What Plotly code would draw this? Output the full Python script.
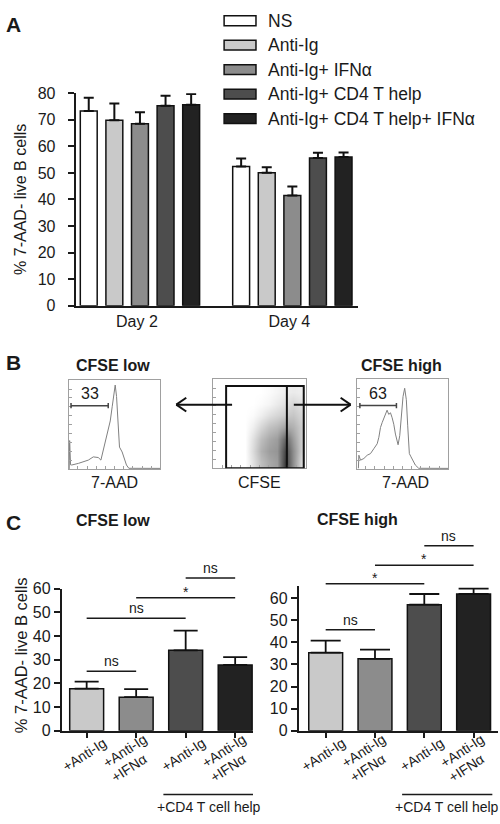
import plotly.graph_objects as go

W, H = 500, 824
FONT = "Liberation Sans, Arial, sans-serif"
INK = "#1a1a1a"

# ---------------- data ----------------
# Panel A
groups = ["NS", "Anti-Ig", "Anti-Ig+ IFNα", "Anti-Ig+ CD4 T help", "Anti-Ig+ CD4 T help+ IFNα"]
group_colors = ["#ffffff", "#c9c9c9", "#8c8c8c", "#4d4d4d", "#222222"]
days = ["Day 2", "Day 4"]
day2_mean = [73.3, 69.8, 68.5, 75.3, 75.7]
day2_err = [5.0, 6.3, 4.3, 3.7, 4.0]
day4_mean = [52.4, 50.1, 41.5, 55.6, 56.0]
day4_err = [3.0, 2.0, 3.4, 2.0, 1.7]

# Panel C
c_line1 = ["+Anti-Ig", "+Anti-Ig", "+Anti-Ig", "+Anti-Ig"]
c_line2 = ["", "+IFNα", "", "+IFNα"]
c_colors = ["#c9c9c9", "#8c8c8c", "#4d4d4d", "#222222"]
low_mean = [17.8, 14.2, 34.0, 27.8]
low_err = [3.0, 3.4, 8.3, 3.3]
high_mean = [35.3, 32.5, 57.0, 61.8]
high_err = [5.4, 4.2, 4.8, 2.4]
# comparisons: (bar i, bar j, bracket height, label)
low_sig = [(0, 1, 25.2, "ns"), (0, 2, 47.5, "ns"), (1, 3, 56.2, "*"), (2, 3, 64.5, "ns")]
high_sig = [(0, 1, 45.6, "ns"), (0, 2, 66.4, "*"), (1, 3, 74.8, "*"), (2, 3, 83.6, "ns")]

# Panel B histograms (7-AAD channel 0-100, % of max)
low_hist_x = [0.5, 1.0, 2.0, 3.3, 10.5, 21.4, 26.8, 32.2, 35.1, 37.7, 40.2, 43.1, 45.3, 47.5, 49.3,
              50.7, 52.2, 54.0, 55.4, 58.3, 60.5, 63.0, 65.6, 100]
low_hist_y = [0, 32.2, 5.0, 4.8, 6.6, 10.3, 13.9, 13.2, 10.3, 21.2, 34.1, 46.9, 54.2, 70.7, 87.2,
              94.5, 81.7, 48.7, 24.9, 19.4, 12.1, 4.8, 1.1, 1.0]
high_hist_x = [2.0, 2.5, 4.3, 8.0, 11.6, 15.2, 18.8, 22.5, 24.3, 26.1, 27.9, 29.7, 31.5, 33.3, 35.1,
               37.0, 38.8, 40.6, 42.4, 44.2, 45.3, 47.1, 48.9, 50.7, 52.5, 54.3, 55.8, 57.6, 59.4,
               61.6, 64.1, 67.8, 100]
high_hist_y = [1.1, 15.6, 10.1, 12.0, 15.6, 17.4, 22.8, 28.3, 35.5, 46.4, 51.8, 57.2, 62.7, 65.6, 60.9,
               62.7, 57.2, 50.0, 39.1, 30.1, 27.2, 37.3, 59.0, 80.8, 89.9, 77.2, 48.2, 17.4, 13.8,
               10.1, 4.7, 1.1, 1.0]
low_gate = [2.5, 43.1, 71.4]    # x0, x1, level
high_gate = [3.6, 43.5, 70.7]
low_pct, high_pct = "33", "63"

# Panel B dot plot density (CFSE vs 7-AAD), estimated on a coarse grid
dot_x = [34.4, 43.0, 51.6, 60.2, 68.8, 77.4, 86.0, 94.6]
dot_y = [85.7, 72.5, 59.3, 46.2, 33.0, 19.8, 6.6]
dot_z = [
    [0.00, 0.00, 0.00, 0.02, 0.05, 0.08, 0.10, 0.08],
    [0.00, 0.00, 0.02, 0.05, 0.10, 0.15, 0.20, 0.15],
    [0.00, 0.02, 0.08, 0.15, 0.20, 0.25, 0.28, 0.20],
    [0.00, 0.08, 0.20, 0.30, 0.35, 0.45, 0.38, 0.25],
    [0.00, 0.15, 0.32, 0.42, 0.48, 0.75, 0.48, 0.25],
    [0.00, 0.18, 0.38, 0.48, 0.52, 0.90, 0.55, 0.25],
    [0.00, 0.15, 0.32, 0.42, 0.48, 0.95, 0.55, 0.20],
]
dot_gate = [14.0, 97.8, 92.3]   # x0, x1, top
dot_split = 79.6


def px(x):
    return x / W


def py(y):
    return 1 - y / H


fig = go.Figure()

# ---------------- Panel A ----------------
for k, name in enumerate(groups):
    fig.add_trace(go.Bar(
        x=days, y=[day2_mean[k], day4_mean[k]], name=name, showlegend=False,
        marker=dict(color=group_colors[k], line=dict(color="#111", width=1.5)),
        error_y=dict(type="data", symmetric=False, array=[day2_err[k], day4_err[k]],
                     arrayminus=[0, 0], color="#111", thickness=2, width=5),
        xaxis="x", yaxis="y"))

# ---------------- Panel C ----------------
cx = list(range(len(c_line1)))
fig.add_trace(go.Bar(
    x=cx, y=low_mean, width=0.685, showlegend=False,
    marker=dict(color=c_colors, line=dict(color="#111", width=1.5)),
    error_y=dict(type="data", symmetric=False, array=low_err, arrayminus=[0] * 4,
                 color="#111", thickness=1.8, width=12),
    xaxis="x2", yaxis="y2"))
fig.add_trace(go.Bar(
    x=cx, y=high_mean, width=0.687, showlegend=False,
    marker=dict(color=c_colors, line=dict(color="#111", width=1.5)),
    error_y=dict(type="data", symmetric=False, array=high_err, arrayminus=[0] * 4,
                 color="#111", thickness=1.8, width=15),
    xaxis="x3", yaxis="y3"))
# invisible carriers for the extra tick-label axes
for xa, ya, vals in [("x7", "y2", low_mean), ("x8", "y2", low_mean),
                     ("x9", "y3", high_mean), ("x10", "y3", high_mean)]:
    fig.add_trace(go.Scatter(x=cx, y=vals, mode="markers", marker=dict(opacity=0),
                             showlegend=False, hoverinfo="skip", xaxis=xa, yaxis=ya))

# ---------------- Panel B ----------------
fig.add_trace(go.Scatter(x=low_hist_x, y=low_hist_y, mode="lines", showlegend=False,
                         line=dict(color="#808080", width=1), xaxis="x4", yaxis="y4"))
fig.add_trace(go.Heatmap(x=dot_x, y=dot_y, z=dot_z, zmin=0, zmax=1.25, showscale=False,
                         zsmooth="best", colorscale=[[0, "#ffffff"], [1, "#000000"]],
                         xaxis="x5", yaxis="y5", hoverinfo="skip"))
fig.add_trace(go.Scatter(x=high_hist_x, y=high_hist_y, mode="lines", showlegend=False,
                         line=dict(color="#808080", width=1), xaxis="x6", yaxis="y6"))

tickfont = dict(family=FONT, size=16, color=INK)
base = dict(showgrid=False, zeroline=False, showline=True, linecolor=INK, linewidth=2,
            tickfont=tickfont, tickcolor=INK, tickwidth=1.5)
flow = dict(showgrid=False, zeroline=False, showline=True, mirror=True, linecolor="#a0a0a0",
            linewidth=1, ticks="inside", ticklen=3, tickcolor="#a0a0a0", showticklabels=False,
            range=[0, 100], dtick=10)

A_RANGE = [0, 80]
C_LOW_RANGE = [0, 60]
C_HIGH_RANGE = [0, 65.5]
C_LOW_DOM = (738, 593)
C_HIGH_DOM = (738, 590)
C_LOW_X = dict(domain=[px(60), px(252)], range=[-0.503, 3.36])
C_HIGH_X = dict(domain=[px(298), px(498)], range=[-0.545, 3.495])

cx_font = dict(family=FONT, size=14, color=INK)
single = [t if not s else "" for t, s in zip(c_line1, c_line2)]
double1 = [t if s else "" for t, s in zip(c_line1, c_line2)]


def label_axis(xdict, yanchor, over, texts, shift, standoff):
    return dict(xdict, anchor=yanchor, overlaying=over, showline=False, showgrid=False,
                zeroline=False, ticks="", tickvals=cx, ticktext=texts, tickangle=-33,
                tickfont=cx_font, ticklabelshift=shift, ticklabelstandoff=standoff)


fig.update_layout(
    width=W, height=824, margin=dict(l=0, r=0, t=0, b=0),
    paper_bgcolor="white", plot_bgcolor="white",
    barmode="group", bargap=0.16, bargroupgap=0.34,
    font=dict(family=FONT, color=INK),
    xaxis=dict(base, domain=[px(74), px(357)], anchor="y", range=[-0.4216, 1.428], ticks="",
               ticklabelstandoff=0, ticklabelshift=-3),
    yaxis=dict(base, domain=[py(304), py(87)], anchor="x", range=A_RANGE, dtick=10,
               ticks="outside", ticklen=6, ticklabelstandoff=9),
    xaxis2=dict(base, **C_LOW_X, anchor="y2", tickvals=cx, ticktext=single, tickangle=-33,
                ticks="outside", ticklen=5, tickfont=cx_font, ticklabelshift=17,
                ticklabelstandoff=-8),
    xaxis7=label_axis(C_LOW_X, "y2", "x2", double1, 8, -3),
    xaxis8=label_axis(C_LOW_X, "y2", "x2", c_line2, 8, 17),
    yaxis2=dict(base, domain=[py(C_LOW_DOM[0]), py(C_LOW_DOM[1])], anchor="x2", range=C_LOW_RANGE,
                dtick=10, ticks="outside", ticklen=6),
    xaxis3=dict(base, **C_HIGH_X, anchor="y3", tickvals=cx, ticktext=single, tickangle=-33,
                ticks="outside", ticklen=5, tickfont=cx_font, ticklabelshift=17,
                ticklabelstandoff=-8),
    xaxis9=label_axis(C_HIGH_X, "y3", "x3", double1, 8, -3),
    xaxis10=label_axis(C_HIGH_X, "y3", "x3", c_line2, 8, 17),
    yaxis3=dict(base, domain=[py(C_HIGH_DOM[0]), py(C_HIGH_DOM[1])], anchor="x3", range=C_HIGH_RANGE,
                tickvals=[0, 10, 20, 30, 40, 50, 60], ticks="outside", ticklen=6),
    xaxis4=dict(flow, domain=[px(67), px(159)], anchor="y4"),
    yaxis4=dict(flow, domain=[py(471), py(380)], anchor="x4"),
    xaxis5=dict(flow, domain=[px(212), px(305)], anchor="y5"),
    yaxis5=dict(flow, domain=[py(470), py(379)], anchor="x5"),
    xaxis6=dict(flow, domain=[px(356), px(448)], anchor="y6"),
    yaxis6=dict(flow, domain=[py(471), py(379)], anchor="x6"),
)

shapes = []
ann = []


def text(x, y, s, size=15, bold=False, angle=0, xanchor="center", yanchor="middle", **kw):
    d = dict(x=x, y=y, text=f"<b>{s}</b>" if bold else s, showarrow=False, textangle=angle,
             xanchor=xanchor, yanchor=yanchor, font=dict(family=FONT, size=size, color=INK))
    d.setdefault("xref", "paper")
    d.setdefault("yref", "paper")
    d.update(kw)
    ann.append(d)


# Panel letters and titles
text(px(2), py(17), "A", size=21, bold=True, xanchor="left")
text(px(2), py(362), "B", size=21, bold=True, xanchor="left")
text(px(2), py(525), "C", size=21, bold=True, xanchor="left")
text(px(19), py(195), "% 7-AAD- live B cells", size=16, angle=-90)
text(px(19), py(661), "% 7-AAD- live B cells", size=16.5, angle=-90)
text(px(111), py(365), "CFSE low", size=16, bold=True)
text(px(401), py(365), "CFSE high", size=16, bold=True)
text(px(111), py(523), "CFSE low", size=16, bold=True)
text(px(357), py(522), "CFSE high", size=16, bold=True)
text(px(113), py(485), "7-AAD", size=16)
text(px(259), py(484), "CFSE", size=16)
text(px(405), py(485), "7-AAD", size=16)

# Legend (panel A)
for i, (name, col) in enumerate(zip(groups, group_colors)):
    yc = 13 + 25 * i
    shapes.append(dict(type="rect", xref="paper", yref="paper", x0=px(223), x1=px(255),
                       y0=py(yc - 5), y1=py(yc + 5), fillcolor=col,
                       line=dict(color="#111", width=1.5)))
    text(px(265), py(yc), name, size=17.5, xanchor="left")


# Significance brackets (panel C)
def to_paper(v, dom, rng):
    b, t = dom
    return py(b + (v - rng[0]) / (rng[1] - rng[0]) * (t - b))


for sig, xa, dom, rng in [(low_sig, "x2", C_LOW_DOM, C_LOW_RANGE), (high_sig, "x3", C_HIGH_DOM, C_HIGH_RANGE)]:
    for i, j, v, lab in sig:
        yp = to_paper(v, dom, rng)
        shapes.append(dict(type="line", xref=xa, yref="paper", x0=i, x1=j, y0=yp, y1=yp,
                           line=dict(color=INK, width=1.5)))
        text((i + j) / 2, yp, lab, size=14, xref=xa, yanchor="bottom",
             yshift=(-4 if lab == "*" else 0))
    # +CD4 T cell help bracket
    shapes.append(dict(type="line", xref=xa, yref="paper", x0=1.55, x1=3.38, y0=py(803), y1=py(803),
                       line=dict(color=INK, width=1.5)))
    text(2.47, py(816), "+CD4 T cell help", size=14, xref=xa)

# Panel B gates
for xa, ya, gate, pct in [("x4", "y4", low_gate, low_pct), ("x6", "y6", high_gate, high_pct)]:
    x0, x1, lv = gate
    shapes.append(dict(type="line", xref=xa, yref=ya, x0=x0, x1=x1, y0=lv, y1=lv,
                       line=dict(color="#444", width=1.5)))
    for xe in (x0, x1):
        shapes.append(dict(type="line", xref=xa, yref=ya, x0=xe, x1=xe, y0=lv - 3, y1=lv + 3,
                           line=dict(color="#444", width=1.5)))
    text((x0 + x1) / 2, lv + 2, pct, size=16, xref=xa, yref=ya, yanchor="bottom")

g0, g1, gt = dot_gate
shapes.append(dict(type="rect", xref="x5", yref="y5", x0=g0, x1=g1, y0=0, y1=gt,
                   line=dict(color="#111", width=2)))
shapes.append(dict(type="line", xref="x5", yref="y5", x0=dot_split, x1=dot_split, y0=0, y1=gt,
                   line=dict(color="#111", width=2)))

# Arrows
for tail, head in [((231, 405), (175, 405)), ((293, 405), (350, 405))]:
    d = 1 if head[0] > tail[0] else -1
    shapes.append(dict(type="line", xref="paper", yref="paper", x0=px(tail[0]), x1=px(head[0]),
                       y0=py(tail[1]), y1=py(head[1]), line=dict(color="#111", width=2)))
    for s in (-1, 1):
        shapes.append(dict(type="line", xref="paper", yref="paper", x0=px(head[0]),
                           x1=px(head[0] - d * 10), y0=py(head[1]), y1=py(head[1] + s * 7),
                           line=dict(color="#111", width=2)))

fig.update_layout(shapes=shapes, annotations=ann)
fig.write_html("out.html", config={"displayModeBar": False},
               post_script="document.body.style.margin='0';document.body.style.overflow='hidden';")
